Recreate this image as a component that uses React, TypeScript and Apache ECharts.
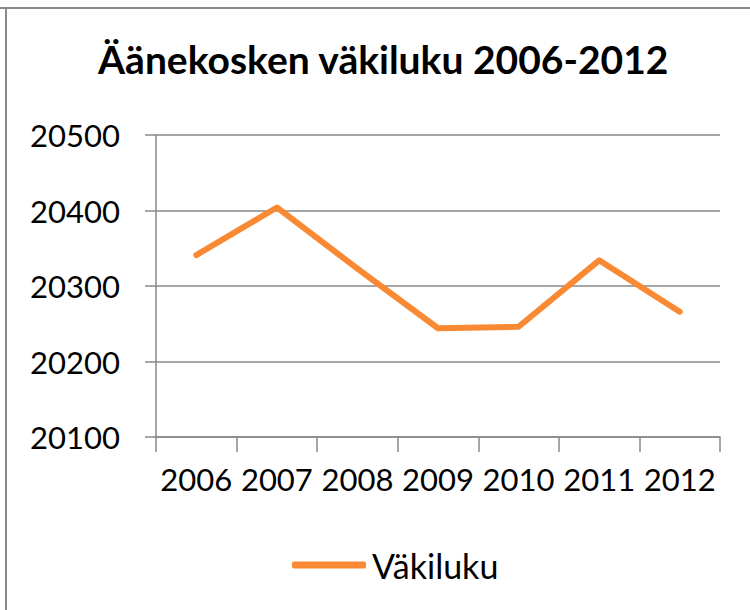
import React, { useEffect, useRef } from "react";
import * as echarts from "echarts";

const titleText = "Äänekosken väkiluku 2006-2012";
const seriesName = "Väkiluku";
const years = ["2006", "2007", "2008", "2009", "2010", "2011", "2012"];
const population = [20341, 20404, 20323, 20244, 20246, 20334, 20266];
const yMin = 20100;
const yMax = 20500;
const yStep = 100;

const FONT = "Lato";
const ORANGE = "#F98A33";
const GRAY = "#888888";

export default function App() {
  const ref = useRef<HTMLDivElement>(null);
  useEffect(() => {
    if (!ref.current) return;
    const chart = echarts.init(ref.current, undefined, { renderer: "svg" });
    chart.setOption({
      animation: false,
      backgroundColor: "#ffffff",
      title: {
        text: titleText,
        left: 93,
        top: 34,
        textStyle: { fontFamily: FONT, fontSize: 39, fontWeight: "bold", color: "#000000" },
      },
      legend: {
        data: [seriesName],
        left: 287,
        top: 543,
        icon: "roundRect",
        itemWidth: 74,
        itemHeight: 7,
        itemGap: 10,
        textStyle: { fontFamily: FONT, fontSize: 34, color: "#000000", padding: [0, 0, 0, 1] },
      },
      grid: { left: 156, right: 30, top: 135, bottom: 173, containLabel: false },
      xAxis: {
        type: "category",
        data: years,
        boundaryGap: true,
        axisLine: { lineStyle: { color: GRAY, width: 1.5 } },
        axisTick: { show: true, length: 15, lineStyle: { color: GRAY, width: 1.5 } },
        axisLabel: {
          fontFamily: FONT,
          fontSize: 31,
          color: "#000000",
          margin: 26,
          interval: 0,
          hideOverlap: false,
        },
      },
      yAxis: {
        type: "value",
        min: yMin,
        max: yMax,
        interval: yStep,
        axisLine: { show: true, lineStyle: { color: GRAY, width: 1.5 } },
        axisTick: { show: true, length: 11, lineStyle: { color: GRAY, width: 1.5 } },
        splitLine: { lineStyle: { color: GRAY, width: 1.5 } },
        axisLabel: {
          fontFamily: FONT,
          fontSize: 31,
          color: "#000000",
          margin: 36,
          formatter: (v: number) => String(v),
        },
      },
      series: [
        {
          name: seriesName,
          type: "line",
          data: population,
          symbol: "none",
          lineStyle: { color: ORANGE, width: 6, cap: "round", join: "round" },
          itemStyle: { color: ORANGE },
        },
      ],
      graphic: [
        { type: "line", shape: { x1: 0, y1: 8, x2: 750, y2: 8 }, style: { stroke: GRAY, lineWidth: 2 } },
        { type: "line", shape: { x1: 6, y1: 8, x2: 6, y2: 610 }, style: { stroke: GRAY, lineWidth: 2 } },
      ],
    });
    return () => chart.dispose();
  }, []);
  return (
    <div
      ref={ref}
      style={{ position: "fixed", left: 0, top: 0, width: 750, height: 610 }}
    />
  );
}
